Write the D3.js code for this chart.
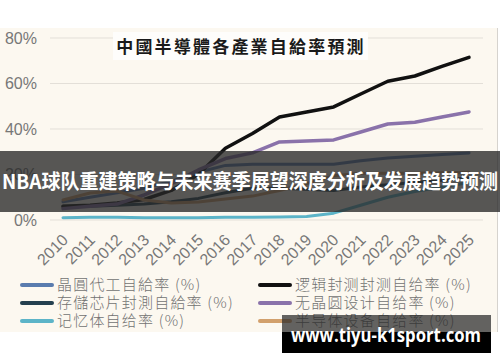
<!DOCTYPE html>
<html>
<head>
<meta charset="utf-8">
<script src="https://cdn.jsdelivr.net/npm/d3@7"></script>
<style>
  html, body { margin: 0; padding: 0; background: #fff; }
  svg { display: block; }
</style>
</head>
<body>
<div id="chart"></div>
<script>
// 데이터 (그림에서 읽은 값, %)
const years = ["2010","2011","2012","2013","2014","2015","2016","2017","2018","2019","2020","2021","2022","2023","2024","2025"];
const foundry   = [8, 10, 12, 14, 17, 21, 24, 24.5, 24.5, 24.5, 24.5, 26, 27.3, 28, 28.8, 29.5];   // 晶圓代工
const memPack   = [6, 6, 6.5, 7, 8, 9.5, 12, 14, 14, 13.5, 13, 14.5, 15.5, 16.5, 17.5, 18.5];   // 存儲芯片封測
const memory    = [1, 1.2, 1.2, 1, 1, 1, 1.2, 1.2, 1.3, 1.5, 3, 6.5, 10, 12.5, 14.5, 16.5];      // 记忆体
const logicPack = [6, 6.5, 7.5, 9, 13, 20, 31.5, 38, 45.3, 47.5, 49.7, 55.4, 61, 63.3, 67.5, 71.5]; // 逻辑封测
const fabless   = [5, 6, 7, 11, 16, 22, 27, 29.5, 34.3, 34.7, 35.2, 38.7, 42.2, 43, 45.3, 47.5];  // 无晶圆设计
const equipment = [8.8, 11.9, 12.7, 8.8, 7.5, 7.9, 9.2, 10.5, 13, 16, 19.5, 20.5, 20.5, 20.5, 20.8, 21]; // 半导体设备
const yTicks = [0, 20, 40, 60, 80];

const series = [
  { name: "晶圓代工自給率 (%)",       values: foundry,   color: "#5a7cae", w: 3 },
  { name: "存儲芯片封測自給率 (%)",   values: memPack,   color: "#24404f", w: 3 },
  { name: "记忆体自给率 (%)",         values: memory,    color: "#5cb4c8", w: 3 },
  { name: "逻辑封测封测自给率 (%)",   values: logicPack, color: "#111111", w: 3.5 },
  { name: "无晶圆设计自给率 (%)",     values: fabless,   color: "#8a72aa", w: 3.5 },
  { name: "半导体设备自给率 (%)",     values: equipment, color: "#d2a06c", w: 3 }
];

const width = 500, height = 362;
const svg = d3.select("#chart").append("svg")
  .attr("width", width)
  .attr("height", height);

// 배경
svg.append("rect").attr("x", 0).attr("y", 28).attr("width", 497).attr("height", 304)
  .attr("fill", "#fcf8f0");
svg.append("line").attr("x1", 497.5).attr("x2", 497.5).attr("y1", 28).attr("y2", 332)
  .attr("stroke", "#d6d3ce").attr("stroke-width", 1);

const x = d3.scalePoint().domain(years).range([63, 469]);
const y = d3.scaleLinear().domain([0, 80]).range([220, 38]);

// 그리드
svg.append("g").selectAll("line")
  .data(yTicks)
  .enter().append("line")
  .attr("x1", 50).attr("x2", 483)
  .attr("y1", d => y(d)).attr("y2", d => y(d))
  .attr("stroke", "#e3dfd8").attr("stroke-width", 1);

svg.append("g").selectAll("text")
  .data(yTicks)
  .enter().append("text")
  .attr("x", 37)
  .attr("y", d => y(d))
  .attr("dy", "0.36em")
  .attr("text-anchor", "end")
  .style("font-family", "'Liberation Sans', Arial, sans-serif")
  .style("font-size", "16px")
  .attr("fill", "#777")
  .text(d => d + "%");

// 제목
svg.append("rect").attr("x", 113).attr("y", 32).attr("width", 255).attr("height", 28)
  .attr("fill", "#fefdfb");
svg.append("text")
  .attr("x", 241).attr("y", 53)
  .attr("text-anchor", "middle")
  .style("font-family", "'Noto Sans CJK TC', 'Noto Sans CJK SC', sans-serif")
  .style("font-size", "17px")
  .style("font-weight", "bold")
  .style("letter-spacing", "2.2px")
  .attr("fill", "#1a1a1a")
  .text("中國半導體各產業自給率預測");

// 선
const line = d3.line()
  .x((d, i) => x(years[i]))
  .y(d => y(d));

svg.append("g").selectAll("path")
  .data(series)
  .enter().append("path")
  .attr("d", d => line(d.values))
  .attr("fill", "none")
  .attr("stroke", d => d.color)
  .attr("stroke-width", d => d.w)
  .attr("stroke-linejoin", "round")
  .attr("stroke-linecap", "round");

// x축 라벨 (45도 회전)
svg.append("g").selectAll("text")
  .data(years)
  .enter().append("text")
  .attr("transform", d => `translate(${x(d) + 6},${241}) rotate(-45)`)
  .attr("text-anchor", "end")
  .style("font-family", "'Liberation Sans', Arial, sans-serif")
  .style("font-size", "16px")
  .attr("fill", "#777")
  .text(d => d);

// 범례
const legend = svg.append("g");
const legendItems = legend.selectAll("g")
  .data(series)
  .enter().append("g")
  .attr("transform", (d, i) => `translate(${i < 3 ? 22 : 260},${[285, 303, 321][i % 3]})`);

legendItems.append("line")
  .attr("x1", 0).attr("x2", 30)
  .attr("y1", 0).attr("y2", 0)
  .attr("stroke", d => d.color)
  .attr("stroke-width", 4)
  .attr("stroke-linecap", "round");

legendItems.append("text")
  .attr("x", 35)
  .attr("dy", "0.36em")
  .style("font-family", "'Noto Sans CJK SC', sans-serif")
  .style("font-size", "15px")
  .style("font-weight", "300")
  .style("letter-spacing", "1.2px")
  .attr("fill", "#727272")
  .text(d => d.name);

// 배너
svg.append("rect").attr("x", 0).attr("y", 151).attr("width", width).attr("height", 61)
  .attr("fill", "rgba(40,40,40,0.78)");
svg.append("text")
  .attr("x", 2).attr("y", 189)
  .attr("textLength", 496)
  .attr("lengthAdjust", "spacingAndGlyphs")
  .style("font-family", "'Noto Sans CJK SC', sans-serif")
  .style("font-size", "20px")
  .style("font-weight", "bold")
  .attr("fill", "#fff")
  .text("NBA球队重建策略与未来赛季展望深度分析及发展趋势预测");

// 워터마크
svg.append("rect").attr("x", 282).attr("y", 315).attr("width", 209).attr("height", 17)
  .attr("fill", "rgba(40,40,40,0.72)");
svg.append("rect").attr("x", 282).attr("y", 332).attr("width", 209).attr("height", 21)
  .attr("fill", "#000");
svg.append("text")
  .attr("x", 291).attr("y", 342)
  .attr("textLength", 190)
  .attr("lengthAdjust", "spacingAndGlyphs")
  .style("font-family", "'Open Sans', 'DejaVu Sans', sans-serif")
  .style("font-size", "20px")
  .style("font-weight", "bold")
  .attr("fill", "#fff")
  .text("www.tiyu-k1sport.com");
</script>
</body>
</html>
